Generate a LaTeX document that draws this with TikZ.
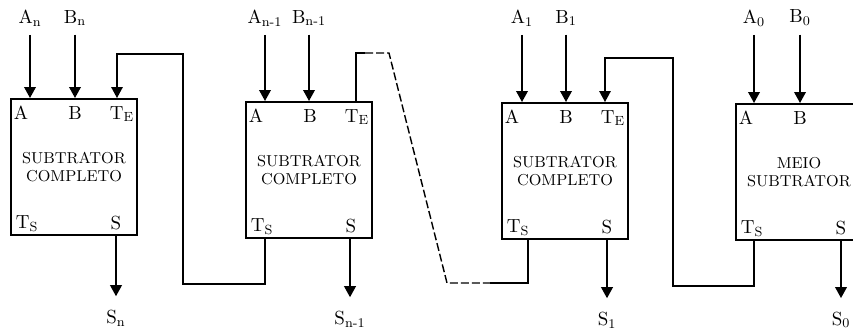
\documentclass[tikz,border=0pt]{standalone}
\usepackage{tikz}
\usetikzlibrary{arrows.meta,positioning}

\begin{document}
\begin{tikzpicture}[
  x=0.2mm, y=-0.2mm,
  block/.style={draw, line width=1.1pt, minimum width=25.2mm,
                minimum height=27.2mm, align=center, inner sep=0pt,
                font=\fontsize{9}{10.3}\selectfont},
  port/.style={font=\fontsize{10.8}{12}\selectfont, inner sep=0pt},
  signal/.style={font=\fontsize{10.8}{12}\selectfont, inner sep=3pt},
  arrow/.style={-{Triangle[length=2.2mm, width=2.3mm]}, line width=1.1pt},
  wire/.style={line width=0.8pt},
  carry/.style={wire, -{Triangle[length=2.2mm, width=2.3mm]}}
]
  \useasboundingbox (0,0) rectangle (853,334);
  \clip (0,0) rectangle (853,334);

  \node[block] (fsn)  at (74,167)  {SUBTRATOR\\COMPLETO};
  \node[block] (fsn1) at (309,170) {SUBTRATOR\\COMPLETO};
  \node[block] (fs1)  at (565,171) {SUBTRATOR\\COMPLETO};
  \node[block] (hs0)  at (799,172) {MEIO\\SUBTRATOR};

  % port names inside the blocks
  \foreach \b in {fsn,fsn1,fs1,hs0} {
    \node[port] at ([shift={(11,15)}]\b.north west) {A};
    \node[port] at ([shift={(1,15)}]\b.north) {B};
    \node[port] at ([shift={(17,-12)}]\b.south west) {T\textsubscript{S}};
    \node[port] at ([shift={(-22,-13)}]\b.south east) {S};
  }
  \foreach \b in {fsn,fsn1,fs1}
    \node[port] at ([shift={(-16,16)}]\b.north east) {T\textsubscript{E}};

  % inputs
  \node[signal] (an)  at (30,18)  {A\textsubscript{n}};
  \node[signal] (bn)  at (75,18)  {B\textsubscript{n}};
  \node[signal] (an1) at (265,18) {A\textsubscript{n-1}};
  \node[signal] (bn1) at (309,18) {B\textsubscript{n-1}};
  \node[signal] (a1)  at (522,18) {A\textsubscript{1}};
  \node[signal] (b1)  at (566,18) {B\textsubscript{1}};
  \node[signal] (a0)  at (754,18) {A\textsubscript{0}};
  \node[signal] (b0)  at (800,18) {B\textsubscript{0}};

  \draw[arrow, shorten <=0.6mm] (an)  -- (an |- fsn.north);
  \draw[arrow, shorten <=0.6mm] (bn)  -- (bn |- fsn.north);
  \draw[arrow, shorten <=0.6mm] (an1) -- (an1 |- fsn1.north);
  \draw[arrow, shorten <=0.6mm] (bn1) -- (bn1 |- fsn1.north);
  \draw[arrow, shorten <=0.6mm] (a1)  -- (a1 |- fs1.north);
  \draw[arrow, shorten <=0.6mm] (b1)  -- (b1 |- fs1.north);
  \draw[arrow, shorten <=0.6mm] (a0)  -- (a0 |- hs0.north);
  \draw[arrow, shorten <=0.6mm] (b0)  -- (b0 |- hs0.north);

  % outputs
  \node[signal] (sn)  at (116,318) {S\textsubscript{n}};
  \node[signal] (sn1) at (350,319) {S\textsubscript{n-1}};
  \node[signal] (s1)  at (607,320) {S\textsubscript{1}};
  \node[signal] (s0)  at (841,320) {S\textsubscript{0}};

  \draw[arrow, shorten >=1.6mm] (sn |- fsn.south)  -- (sn);
  \draw[arrow, shorten >=1.6mm] (sn1 |- fsn1.south) -- (sn1);
  \draw[arrow, shorten >=1.6mm] (s1 |- fs1.south)  -- (s1);
  \draw[arrow, shorten >=1.6mm] (s0 |- hs0.south)  -- (s0);

  % borrow chain
  \coordinate (te1)  at ([shift={(43,0)}]fsn.north);
  \coordinate (ts2)  at ([shift={(-44,0)}]fsn1.south);
  \coordinate (te2)  at ([shift={(47,0)}]fsn1.north);
  \coordinate (ts3)  at ([shift={(-37,0)}]fs1.south);
  \coordinate (te3)  at ([shift={(40,0)}]fs1.north);
  \coordinate (ts4)  at ([shift={(-45,0)}]hs0.south);

  \draw[carry] (ts2) -- ++(0,45) -| ++(-82,-230) -| (te1);
  \draw[wire] (te2) |- ++(9,-48) coordinate (gapl);
  \draw[wire, dash pattern=on 1.6mm off 0.6mm]
    (gapl) -- ++(24,0) -- ++(58,230) -- ++(43,0) coordinate (gapr);
  \draw[wire] (gapr) -| (ts3);
  \draw[carry] (ts4) -- ++(0,45) -| ++(-81,-228) -| (te3);
\end{tikzpicture}
\end{document}
